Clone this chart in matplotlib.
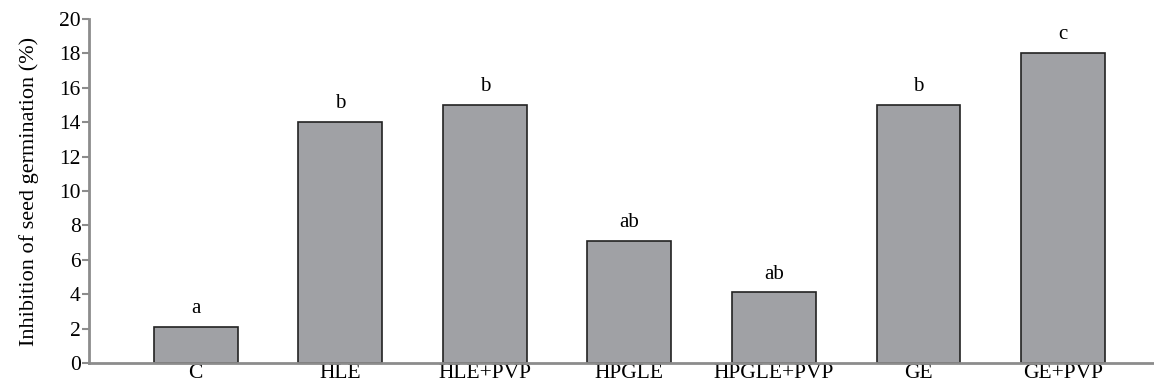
import numpy as np
import matplotlib.pyplot as plt

plt.rcParams['font.family'] = ['Liberation Serif', 'DejaVu Serif']

treatments = ["C", "HLE", "HLE+PVP", "HPGLE", "HPGLE+PVP", "GE", "GE+PVP"]
inhibition = [2.1, 14.0, 15.0, 7.1, 4.1, 15.0, 18.05]
letters = ["a", "b", "b", "ab", "ab", "b", "c"]

fig = plt.figure(figsize=(11.54, 3.87), dpi=100)
ax = fig.add_axes([0.077, 0.062, 0.923, 0.889])

x = np.arange(len(treatments))
bars = ax.bar(x, inhibition, width=0.58, color="#a0a1a5",
              edgecolor="#222222", linewidth=1.2, zorder=2)

for xi, v, lab in zip(x, inhibition, letters):
    ax.annotate(lab, xy=(xi, v), xytext=(0, 10), textcoords="offset points",
                ha="center", va="baseline", fontsize=15)

ax.set_xlim(-0.74, 6.63)
ax.set_ylim(0, 20)
ax.set_yticks(np.arange(0, 21, 2))
ax.set_xticks(x)
ax.set_xticklabels(treatments)
ax.set_ylabel("Inhibition of seed germination (%)", fontsize=16, labelpad=14)

for s in ["top", "right"]:
    ax.spines[s].set_visible(False)
for s in ["left", "bottom"]:
    ax.spines[s].set_color("#8c8c8c")
    ax.spines[s].set_linewidth(2)

ax.tick_params(axis="y", direction="out", length=5, width=1.5, color="#8c8c8c",
               labelsize=15.5, pad=1)
ax.tick_params(axis="x", length=0, labelsize=15.5, pad=1)

fig.savefig("out.png", dpi=100)
